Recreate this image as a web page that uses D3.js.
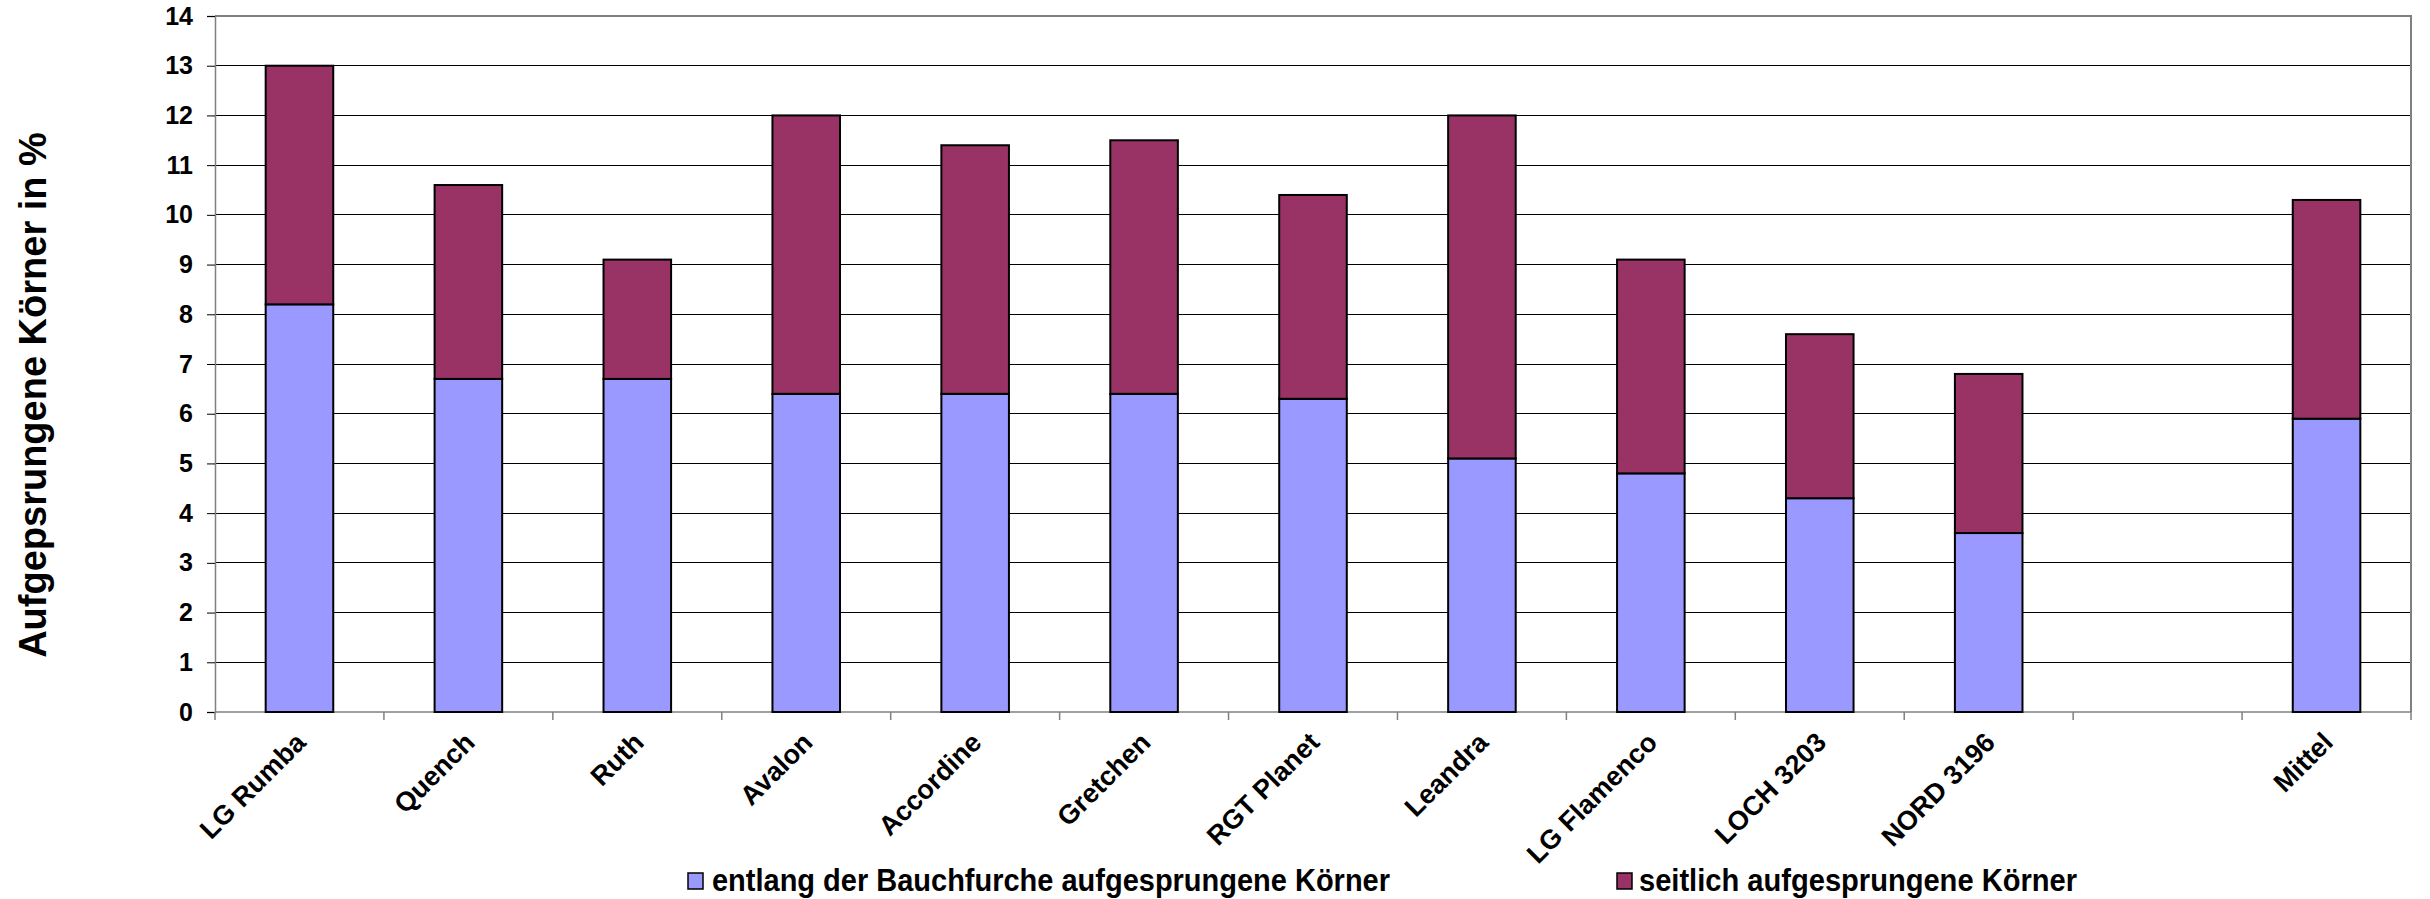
<!DOCTYPE html>
<html>
<head>
<meta charset="utf-8">
<script src="https://cdn.jsdelivr.net/npm/d3@7"></script>
<style>
  html, body { margin: 0; padding: 0; background: #fff; }
  svg { display: block; font-family: "Liberation Sans", Arial, sans-serif; font-weight: bold; }
</style>
</head>
<body>
<svg id="chart" width="2430" height="899"></svg>
<script>
const categories = ["LG Rumba", "Quench", "Ruth", "Avalon", "Accordine", "Gretchen", "RGT Planet", "Leandra", "LG Flamenco", "LOCH 3203", "NORD 3196", "", "Mittel"];
const bauchfurche = [8.2, 6.7, 6.7, 6.4, 6.4, 6.4, 6.3, 5.1, 4.8, 4.3, 3.6, null, 5.9];
const seitlich    = [4.8, 3.9, 2.4, 5.6, 5.0, 5.1, 4.1, 6.9, 4.3, 3.3, 3.2, null, 4.4];
const yTicks = [0,1,2,3,4,5,6,7,8,9,10,11,12,13,14];
const seriesNames = ["entlang der Bauchfurche aufgesprungene Körner", "seitlich aufgesprungene Körner"];
const colors = ["#9999FF", "#993366"];

const svg = d3.select("#chart");
const L = 215, R = 2411, T = 16, B = 712;

const x = d3.scaleBand().domain(categories.map((c, i) => i)).range([L, R]).paddingInner(0).paddingOuter(0);
const y = d3.scaleLinear().domain([0, 14]).range([B, T]);

// gridlines
svg.append("g").selectAll("line").data(yTicks.filter(t => t > 0 && t < 14)).join("line")
  .attr("x1", L).attr("x2", R).attr("y1", d => y(d)).attr("y2", d => y(d))
  .attr("stroke", "#000").attr("stroke-width", 1).attr("shape-rendering", "crispEdges");

// plot border (top, right)
svg.append("path").attr("d", `M${L},${y(14)}H${R}V${B}`)
  .attr("fill", "none").attr("stroke", "#808080").attr("stroke-width", 1.5).attr("shape-rendering", "crispEdges");

// y axis
const yAxis = d3.axisLeft(y).tickValues(yTicks).tickSize(8).tickPadding(14).tickFormat(d3.format("d"));
const gy = svg.append("g").attr("transform", `translate(${L},0)`).call(yAxis);
gy.select(".domain").attr("stroke", "#808080").attr("stroke-width", 1.5);
gy.selectAll(".tick line").attr("stroke", "#000").attr("stroke-width", 1);
gy.selectAll(".tick text").attr("font-size", 25).attr("font-weight", "bold").attr("fill", "#000")
  .attr("font-family", "'Liberation Sans', Arial, sans-serif");

// x axis (ticks at band boundaries)
const gx = svg.append("g");
gx.append("line").attr("x1", L).attr("x2", R).attr("y1", B).attr("y2", B)
  .attr("stroke", "#808080").attr("stroke-width", 1.5);
const bounds = categories.map((c, i) => x(i)).concat([R]);
gx.selectAll("line.tk").data(bounds).join("line").attr("class", "tk")
  .attr("x1", d => d).attr("x2", d => d).attr("y1", B).attr("y2", B + 8)
  .attr("stroke", "#808080").attr("stroke-width", 1.5);
gx.selectAll("text").data(categories).join("text")
  .attr("transform", (d, i) => `translate(${x(i) + x.bandwidth() / 2 + 8},${B + 32}) rotate(-45)`)
  .attr("text-anchor", "end").attr("font-size", 27).attr("fill", "#000")
  .text(d => d);

// bars
const bw = x.bandwidth() * 0.4;
const stacks = categories.map((c, i) => ({ i, a: bauchfurche[i], b: seitlich[i] })).filter(d => d.a != null);
const gb = svg.append("g");
gb.selectAll("rect.s1").data(stacks).join("rect").attr("class", "s1")
  .attr("x", d => x(d.i) + (x.bandwidth() - bw) / 2).attr("width", bw)
  .attr("y", d => y(d.a)).attr("height", d => y(0) - y(d.a))
  .attr("fill", colors[0]).attr("stroke", "#000").attr("stroke-width", 2);
gb.selectAll("rect.s2").data(stacks).join("rect").attr("class", "s2")
  .attr("x", d => x(d.i) + (x.bandwidth() - bw) / 2).attr("width", bw)
  .attr("y", d => y(d.a + d.b)).attr("height", d => y(d.a) - y(d.a + d.b))
  .attr("fill", colors[1]).attr("stroke", "#000").attr("stroke-width", 2);

// y title
svg.append("text").attr("transform", `translate(46,${(T + B) / 2 + 31}) rotate(-90)`)
  .attr("text-anchor", "middle").attr("font-size", 38).attr("fill", "#000")
  .text("Aufgepsrungene Körner in %");

// legend
const legend = [
  { name: seriesNames[0], color: colors[0], sx: 688, tx: 712, tw: 678 },
  { name: seriesNames[1], color: colors[1], sx: 1617, tx: 1639, tw: 438 }
];
const lg = svg.append("g");
const baseY = 891;
legend.forEach(l => {
  lg.append("rect").attr("x", l.sx).attr("y", baseY - 18).attr("width", 15).attr("height", 16)
    .attr("fill", l.color).attr("stroke", "#000").attr("stroke-width", 1.5);
  lg.append("text").attr("x", l.tx).attr("y", baseY).attr("font-size", 31).attr("fill", "#000")
    .attr("textLength", l.tw).attr("lengthAdjust", "spacingAndGlyphs").text(l.name);
});
</script>
</body>
</html>
